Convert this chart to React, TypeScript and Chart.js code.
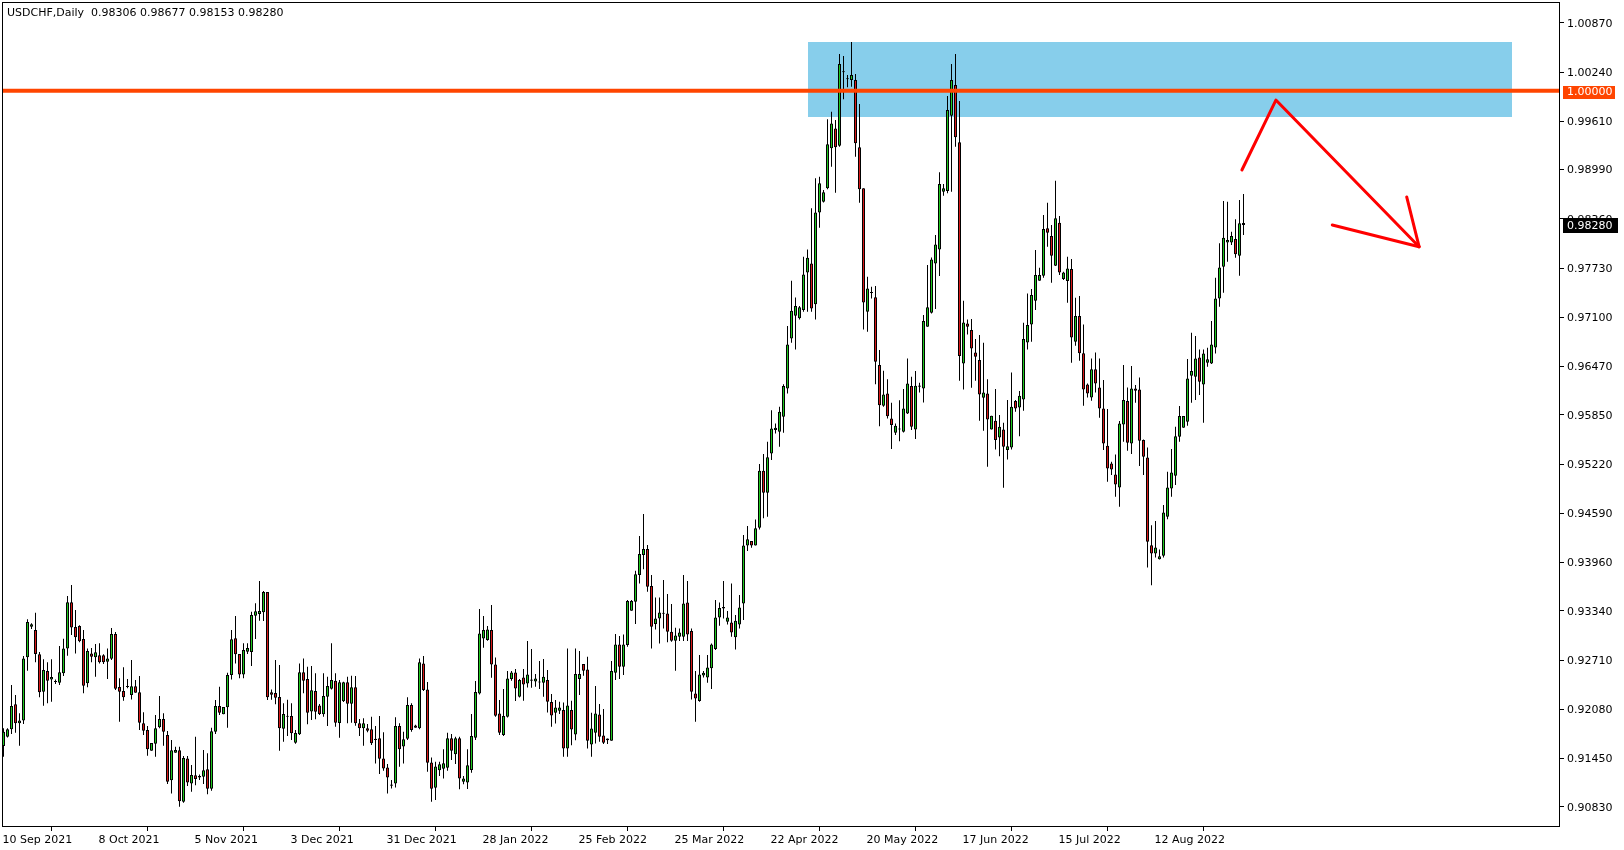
import React, { useEffect, useRef } from "react";
import { Chart, registerables } from "chart.js";

Chart.register(...registerables);

// ---------- data ----------
const chartTitle = "USDCHF,Daily  0.98306 0.98677 0.98153 0.98280";

const opens = [
  0.91608, 0.91728, 0.91822, 0.92142, 0.91899, 0.91937, 0.92744, 0.93137, 0.93094, 0.92783,
  0.92304, 0.92569, 0.92462, 0.92428, 0.92420, 0.92539, 0.92859, 0.93449, 0.93133, 0.93146,
  0.92979, 0.92411, 0.92795, 0.92744, 0.92770, 0.92770, 0.92689, 0.92727, 0.93043, 0.92364,
  0.92313, 0.92373, 0.92262, 0.92373, 0.92296, 0.91899, 0.91813, 0.91549, 0.91638, 0.91848,
  0.91954, 0.91749, 0.91169, 0.91523, 0.91553, 0.90895, 0.91450, 0.91130, 0.91233, 0.91207,
  0.91216, 0.91310, 0.91062, 0.91792, 0.92121, 0.92014, 0.92104, 0.92518, 0.92988, 0.92787,
  0.92526, 0.92817, 0.92812, 0.93278, 0.93299, 0.93321, 0.93581, 0.92296, 0.92287, 0.92236,
  0.91831, 0.91993, 0.91993, 0.91651, 0.91758, 0.92552, 0.92467, 0.92052, 0.92313, 0.92129,
  0.92014, 0.92240, 0.92343, 0.92445, 0.91903, 0.92181, 0.92424, 0.92151, 0.92360, 0.91899,
  0.91835, 0.91835, 0.91822, 0.91702, 0.91707, 0.91450, 0.91335, 0.91117, 0.91130, 0.91865,
  0.91604, 0.91702, 0.92134, 0.91873, 0.91835, 0.92667, 0.92333, 0.91399, 0.91075, 0.91297,
  0.91318, 0.91331, 0.91707, 0.91502, 0.91707, 0.91152, 0.91143, 0.91301, 0.91715, 0.92282,
  0.92987, 0.92965, 0.93094, 0.92654, 0.92026, 0.91749, 0.91983, 0.92466, 0.92551, 0.92240,
  0.92487, 0.92410, 0.92445, 0.92436, 0.92423, 0.92419, 0.92453, 0.92171, 0.92035, 0.92060,
  0.92069, 0.91578, 0.92069, 0.91757, 0.92466, 0.92658, 0.92590, 0.91629, 0.91778, 0.92013,
  0.91744, 0.91706, 0.91676, 0.92547, 0.92910, 0.92624, 0.92901, 0.93341, 0.93456, 0.93798,
  0.94054, 0.94131, 0.93657, 0.93170, 0.93243, 0.93303, 0.93307, 0.93072, 0.92957, 0.93008,
  0.93008, 0.93448, 0.93081, 0.92282, 0.92184, 0.92513, 0.92487, 0.92603, 0.92850, 0.93256,
  0.93371, 0.93200, 0.93192, 0.93000, 0.93166, 0.93435, 0.94178, 0.94234, 0.94178, 0.94404,
  0.95133, 0.94853, 0.95355, 0.95654, 0.95633, 0.95825, 0.96188, 0.96828, 0.97119, 0.97085,
  0.97191, 0.97674, 0.97789, 0.97266, 0.98442, 0.98579, 0.98750, 0.99262, 0.99518, 0.99296,
  1.00236, 1.00146, 1.00138, 1.00138, 0.99275, 0.98750, 0.97170, 0.97409, 0.97355, 0.96487,
  0.95966, 0.96124, 0.95803, 0.95620, 0.95663, 0.95633, 0.95868, 0.96218, 0.95663, 0.96209,
  0.96188, 0.96978, 0.97157, 0.97789, 0.97968, 0.98707, 0.98716, 0.99681, 1.00073, 0.99339,
  0.96508, 0.97020, 0.96935, 0.96649, 0.96551, 0.96068, 0.96124, 0.95663, 0.95774, 0.95560,
  0.95663, 0.95398, 0.95432, 0.96026, 0.95945, 0.96047, 0.96777, 0.97008, 0.97311, 0.97567,
  0.97631, 0.98238, 0.98139, 0.97759, 0.98310, 0.97589, 0.97563, 0.97717, 0.96786, 0.97115,
  0.96637, 0.96239, 0.96073, 0.96432, 0.96201, 0.95932, 0.95454, 0.95227, 0.95086, 0.94920,
  0.95727, 0.96026, 0.95484, 0.96188, 0.96175, 0.95526, 0.95304, 0.94181, 0.94074, 0.94002,
  0.94044, 0.94544, 0.94907, 0.95069, 0.95569, 0.95684, 0.95761, 0.96350, 0.96338, 0.96585,
  0.96239, 0.96517, 0.96508, 0.96713, 0.97341, 0.97747, 0.98058, 0.98058, 0.98101, 0.97888,
  0.98306,
];

const highs = [
  0.91835, 0.91835, 0.92390, 0.92262, 0.92027, 0.92761, 0.93231, 0.93180, 0.93316, 0.92812,
  0.92719, 0.92680, 0.92719, 0.92462, 0.92889, 0.92983, 0.93530, 0.93671, 0.93351, 0.93154,
  0.93094, 0.92859, 0.92864, 0.92915, 0.92924, 0.92783, 0.92859, 0.93120, 0.93069, 0.92475,
  0.92616, 0.92467, 0.92710, 0.92454, 0.92505, 0.92040, 0.91865, 0.91647, 0.92006, 0.92249,
  0.92027, 0.91801, 0.91685, 0.91600, 0.91600, 0.91480, 0.91480, 0.91365, 0.91728, 0.91245,
  0.91557, 0.91515, 0.91844, 0.92198, 0.92369, 0.92108, 0.92548, 0.93094, 0.93274, 0.92787,
  0.92924, 0.92924, 0.93329, 0.93436, 0.93722, 0.93594, 0.93581, 0.92334, 0.92710, 0.92646,
  0.92155, 0.92202, 0.92155, 0.91813, 0.92667, 0.92731, 0.92625, 0.92633, 0.92539, 0.92146,
  0.92539, 0.92497, 0.92924, 0.92539, 0.92454, 0.92432, 0.92497, 0.92509, 0.92505, 0.91954,
  0.91963, 0.91890, 0.91984, 0.91865, 0.91993, 0.91784, 0.91378, 0.91173, 0.91976, 0.91899,
  0.91792, 0.92232, 0.92155, 0.91882, 0.92731, 0.92761, 0.92427, 0.91463, 0.91408, 0.91408,
  0.91566, 0.91780, 0.91762, 0.91728, 0.91728, 0.91224, 0.91566, 0.92019, 0.92440, 0.93362,
  0.93273, 0.93145, 0.93414, 0.92743, 0.92197, 0.92338, 0.92568, 0.92568, 0.92594, 0.92466,
  0.92594, 0.92953, 0.92850, 0.92530, 0.92696, 0.92722, 0.92581, 0.92274, 0.92197, 0.92175,
  0.92167, 0.92859, 0.92188, 0.92859, 0.92824, 0.92658, 0.92752, 0.92035, 0.92376, 0.92146,
  0.92082, 0.91706, 0.92696, 0.93042, 0.93017, 0.93038, 0.93478, 0.93478, 0.93854, 0.94298,
  0.94579, 0.94182, 0.93798, 0.93512, 0.93512, 0.93734, 0.93555, 0.93427, 0.93123, 0.93115,
  0.93798, 0.93721, 0.93115, 0.92568, 0.92773, 0.92568, 0.92773, 0.92923, 0.93478, 0.93448,
  0.93721, 0.93337, 0.93691, 0.93286, 0.93542, 0.94310, 0.94426, 0.94234, 0.94511, 0.95220,
  0.95349, 0.95505, 0.95910, 0.95739, 0.95953, 0.96243, 0.96986, 0.97567, 0.97351, 0.97244,
  0.97874, 0.97968, 0.98494, 0.98878, 0.98899, 0.98728, 0.99634, 0.99732, 0.99625, 1.00471,
  1.00445, 1.00202, 1.00624, 1.00214, 0.99830, 0.98750, 0.97618, 0.97490, 0.97499, 0.96679,
  0.96414, 0.96307, 0.96004, 0.95739, 0.96038, 0.96179, 0.96572, 0.96337, 0.96410, 0.96260,
  0.97127, 0.97768, 0.97866, 0.98152, 0.98955, 0.98805, 0.99933, 1.00342, 1.00471, 0.99869,
  0.97311, 0.97072, 0.97076, 0.96820, 0.96871, 0.96773, 0.96307, 0.95838, 0.96180, 0.95847,
  0.95748, 0.96039, 0.96393, 0.96039, 0.96154, 0.97029, 0.97405, 0.97461, 0.97960, 0.97734,
  0.98408, 0.98566, 0.98280, 0.98848, 0.98396, 0.97683, 0.97875, 0.97845, 0.97349, 0.97371,
  0.97008, 0.96252, 0.96572, 0.96649, 0.96572, 0.96295, 0.95923, 0.95249, 0.95343, 0.95770,
  0.96487, 0.96201, 0.96474, 0.96231, 0.96329, 0.95535, 0.95432, 0.94437, 0.94489, 0.94126,
  0.94694, 0.95121, 0.95411, 0.95697, 0.95962, 0.95834, 0.96564, 0.96901, 0.96858, 0.96688,
  0.96688, 0.96709, 0.97051, 0.97606, 0.98046, 0.98588, 0.98579, 0.98195, 0.98353, 0.98601,
  0.98677,
];

const lows = [
  0.91472, 0.91719, 0.91762, 0.91779, 0.91613, 0.91890, 0.92573, 0.93107, 0.92680, 0.92232,
  0.92125, 0.92155, 0.92176, 0.92403, 0.92390, 0.92505, 0.92766, 0.93030, 0.92795, 0.92936,
  0.92283, 0.92360, 0.92680, 0.92497, 0.92667, 0.92659, 0.92467, 0.92710, 0.92326, 0.91920,
  0.92189, 0.92347, 0.92206, 0.92292, 0.91813, 0.91749, 0.91485, 0.91549, 0.91472, 0.91835,
  0.91613, 0.91122, 0.91002, 0.91523, 0.90832, 0.90882, 0.91096, 0.91024, 0.91105, 0.91173,
  0.91122, 0.90990, 0.91037, 0.91762, 0.92006, 0.92014, 0.91844, 0.92462, 0.92667, 0.92475,
  0.92475, 0.92787, 0.92633, 0.92979, 0.93214, 0.93210, 0.92198, 0.92202, 0.92142, 0.91549,
  0.91664, 0.91736, 0.91685, 0.91638, 0.91749, 0.92283, 0.91886, 0.91941, 0.91950, 0.92006,
  0.91984, 0.91865, 0.92334, 0.91856, 0.91715, 0.92172, 0.91899, 0.91907, 0.91869, 0.91736,
  0.91613, 0.91784, 0.91621, 0.91386, 0.91250, 0.91292, 0.91002, 0.91066, 0.91079, 0.91344,
  0.91386, 0.91685, 0.91792, 0.91844, 0.91822, 0.92312, 0.91279, 0.90896, 0.90917, 0.91224,
  0.91194, 0.91293, 0.91429, 0.91378, 0.91054, 0.91118, 0.91058, 0.91267, 0.91686, 0.92269,
  0.92867, 0.92957, 0.92483, 0.91983, 0.91749, 0.91736, 0.91975, 0.92445, 0.92184, 0.92231,
  0.92188, 0.92359, 0.92355, 0.92368, 0.92338, 0.92240, 0.92039, 0.91855, 0.91898, 0.92018,
  0.91471, 0.91471, 0.91620, 0.91684, 0.92261, 0.92509, 0.91578, 0.91471, 0.91642, 0.91663,
  0.91633, 0.91633, 0.91676, 0.92453, 0.92466, 0.92517, 0.92880, 0.93341, 0.93170, 0.93691,
  0.93871, 0.93585, 0.92859, 0.93102, 0.92923, 0.93115, 0.92936, 0.92944, 0.92573, 0.92953,
  0.92953, 0.92953, 0.92205, 0.91919, 0.92175, 0.92487, 0.92419, 0.92338, 0.92837, 0.93149,
  0.93243, 0.93166, 0.93008, 0.92846, 0.93115, 0.93222, 0.94106, 0.94148, 0.94178, 0.94380,
  0.94524, 0.94545, 0.95270, 0.95611, 0.95441, 0.95620, 0.96124, 0.96773, 0.96687, 0.97072,
  0.97170, 0.97170, 0.97170, 0.97072, 0.98246, 0.98570, 0.98737, 0.99027, 0.98694, 0.99284,
  0.99890, 1.00044, 1.00052, 0.99155, 0.98566, 0.96944, 0.96914, 0.97341, 0.96243, 0.95705,
  0.95953, 0.95803, 0.95411, 0.95590, 0.95513, 0.95624, 0.95859, 0.95654, 0.95539, 0.96136,
  0.96008, 0.96978, 0.97149, 0.97204, 0.97627, 0.98656, 0.98686, 0.98707, 0.99284, 0.96286,
  0.96175, 0.96880, 0.96196, 0.96286, 0.95774, 0.95646, 0.95184, 0.95663, 0.95407, 0.95321,
  0.94916, 0.95279, 0.95407, 0.95889, 0.95577, 0.95902, 0.96688, 0.96786, 0.97192, 0.97567,
  0.97606, 0.98003, 0.97542, 0.97755, 0.97640, 0.97576, 0.97285, 0.96517, 0.96735, 0.96542,
  0.95966, 0.96073, 0.96030, 0.96137, 0.95812, 0.95398, 0.94993, 0.95078, 0.94800, 0.94672,
  0.95505, 0.95390, 0.95347, 0.96004, 0.95193, 0.95078, 0.93895, 0.93669, 0.94023, 0.93998,
  0.94023, 0.94514, 0.94800, 0.94950, 0.95505, 0.95684, 0.95710, 0.96004, 0.96039, 0.96103,
  0.95748, 0.96466, 0.96500, 0.96636, 0.97234, 0.97414, 0.97811, 0.98024, 0.97862, 0.97631,
  0.98153,
];

const closes = [
  0.91792, 0.91822, 0.92121, 0.91899, 0.91937, 0.92731, 0.93197, 0.93167, 0.92787, 0.92296,
  0.92582, 0.92445, 0.92492, 0.92437, 0.92552, 0.92859, 0.93449, 0.93128, 0.93000, 0.92949,
  0.92381, 0.92825, 0.92753, 0.92808, 0.92680, 0.92680, 0.92731, 0.93043, 0.92343, 0.92304,
  0.92232, 0.92364, 0.92373, 0.92292, 0.91907, 0.91805, 0.91566, 0.91647, 0.91835, 0.91954,
  0.91792, 0.91151, 0.91553, 0.91557, 0.90900, 0.91455, 0.91143, 0.91237, 0.91186, 0.91224,
  0.91297, 0.91062, 0.91797, 0.92121, 0.92035, 0.92108, 0.92518, 0.92975, 0.92783, 0.92526,
  0.92838, 0.92864, 0.93286, 0.93333, 0.93338, 0.93581, 0.92232, 0.92266, 0.92227, 0.91835,
  0.92018, 0.91984, 0.91771, 0.91775, 0.92552, 0.92445, 0.92035, 0.92322, 0.92048, 0.92018,
  0.92249, 0.92377, 0.92454, 0.91907, 0.92424, 0.92424, 0.92151, 0.92360, 0.91899, 0.91835,
  0.91899, 0.91805, 0.91643, 0.91685, 0.91447, 0.91322, 0.91207, 0.91100, 0.91865, 0.91566,
  0.91694, 0.92134, 0.91813, 0.91844, 0.92680, 0.92325, 0.91394, 0.91062, 0.91348, 0.91374,
  0.91387, 0.91707, 0.91549, 0.91707, 0.91194, 0.91194, 0.91361, 0.91737, 0.92300, 0.93051,
  0.93094, 0.93102, 0.92654, 0.91996, 0.91778, 0.91992, 0.92474, 0.92551, 0.92346, 0.92453,
  0.92398, 0.92526, 0.92462, 0.92474, 0.92432, 0.92496, 0.92175, 0.92000, 0.92103, 0.92103,
  0.91578, 0.92129, 0.91821, 0.92530, 0.92530, 0.92573, 0.91676, 0.91834, 0.92026, 0.91727,
  0.91650, 0.91684, 0.92568, 0.92910, 0.92624, 0.92910, 0.93465, 0.93465, 0.93807, 0.94067,
  0.94131, 0.93649, 0.93136, 0.93243, 0.93320, 0.93311, 0.93072, 0.92957, 0.93025, 0.93064,
  0.93435, 0.93038, 0.92304, 0.92218, 0.92526, 0.92547, 0.92615, 0.92910, 0.93256, 0.93375,
  0.93388, 0.93256, 0.93064, 0.93213, 0.93384, 0.94178, 0.94255, 0.94178, 0.94396, 0.95133,
  0.94853, 0.95306, 0.95675, 0.95684, 0.95889, 0.96218, 0.96751, 0.97182, 0.97244, 0.97227,
  0.97648, 0.97862, 0.97213, 0.98442, 0.98814, 0.98699, 0.99314, 0.99582, 0.99275, 1.00342,
  1.00244, 1.00155, 1.00202, 0.99326, 0.98737, 0.97289, 0.97469, 0.97418, 0.96531, 0.95974,
  0.96111, 0.95833, 0.95718, 0.95710, 0.95671, 0.95932, 0.96252, 0.95697, 0.96222, 0.96226,
  0.97050, 0.97227, 0.97840, 0.98032, 0.98805, 0.98750, 0.99753, 1.00138, 0.99403, 0.96602,
  0.97033, 0.96978, 0.96700, 0.96593, 0.96111, 0.96137, 0.95791, 0.95838, 0.95526, 0.95697,
  0.95441, 0.95449, 0.95953, 0.95932, 0.96094, 0.96820, 0.96999, 0.97384, 0.97640, 0.97640,
  0.98229, 0.98182, 0.97888, 0.98366, 0.97674, 0.97674, 0.97725, 0.96841, 0.97115, 0.96637,
  0.96175, 0.96124, 0.96432, 0.96252, 0.95932, 0.95484, 0.95163, 0.95150, 0.94958, 0.95740,
  0.96039, 0.95492, 0.96188, 0.96158, 0.95518, 0.95313, 0.94224, 0.94074, 0.94151, 0.94040,
  0.94600, 0.94920, 0.95112, 0.95577, 0.95834, 0.95834, 0.96316, 0.96410, 0.96572, 0.96273,
  0.96636, 0.96560, 0.96752, 0.97341, 0.97738, 0.98118, 0.98088, 0.98139, 0.97905, 0.98302,
  0.98280,
];

const xTickBars = [0, 24, 48, 72, 96, 120, 144, 168, 192, 216, 240, 264, 288];
const xTickLabels = [
  "10 Sep 2021", "8 Oct 2021", "5 Nov 2021", "3 Dec 2021", "31 Dec 2021", "28 Jan 2022",
  "25 Feb 2022", "25 Mar 2022", "22 Apr 2022", "20 May 2022", "17 Jun 2022", "15 Jul 2022",
  "12 Aug 2022",
];
const yTickValues = [
  1.0087, 1.0024, 0.9961, 0.9899, 0.9836, 0.9773, 0.971, 0.9647, 0.9585, 0.9522, 0.9459,
  0.9396, 0.9334, 0.9271, 0.9208, 0.9145, 0.9083,
];

const levelPrice = 1.0;
const zoneBars = [201, 377];
const zonePrices = [1.00618, 0.9967];
const arrowBars = [309.6, 318.1, 353.9];
const arrowPrices = [0.98985, 0.99881, 0.98003];
const arrowHeadBars = [350.8, 332.2];
const arrowHeadPrices = [0.9864, 0.98281];
const lastPrice = 0.9828;

// ---------- styling ----------
const FONT_FAMILY = "DejaVu Sans";
const FONT = `11px "${FONT_FAMILY}"`;
const BULL = "#1EC81E";
const BEAR = "#D81818";
const ZONE = "#87CEEB";
const LEVEL = "#FF4500";
const ARROW = "#FF0000";

const mt4Plugin = {
  id: "mt4Overlay",
  beforeDraw(chart: any) {
    const { ctx, width, height } = chart;
    ctx.save();
    ctx.fillStyle = "#ffffff";
    ctx.fillRect(0, 0, width, height);
    ctx.restore();
  },
  beforeDatasetsDraw(chart: any) {
    const { ctx, chartArea, scales } = chart;
    const x = scales.x;
    const y = scales.y;
    ctx.save();
    ctx.beginPath();
    ctx.rect(chartArea.left, chartArea.top, chartArea.right - chartArea.left, chartArea.bottom - chartArea.top);
    ctx.clip();
    const x0 = Math.round(x.getPixelForValue(zoneBars[0]));
    const x1 = Math.round(x.getPixelForValue(zoneBars[1]));
    const y0 = Math.round(y.getPixelForValue(zonePrices[0]));
    const y1 = Math.round(y.getPixelForValue(zonePrices[1]));
    ctx.fillStyle = ZONE;
    ctx.fillRect(x0, y0, x1 - x0, y1 - y0);
    ctx.restore();
  },
  afterDatasetsDraw(chart: any) {
    const { ctx, chartArea, scales } = chart;
    const x = scales.x;
    const y = scales.y;
    ctx.save();
    ctx.beginPath();
    ctx.rect(chartArea.left, chartArea.top, chartArea.right - chartArea.left, chartArea.bottom - chartArea.top);
    ctx.clip();
    // horizontal level
    const ly = y.getPixelForValue(levelPrice);
    ctx.strokeStyle = LEVEL;
    ctx.lineWidth = 4;
    ctx.beginPath();
    ctx.moveTo(chartArea.left, ly);
    ctx.lineTo(chartArea.right, ly);
    ctx.stroke();
    // hand drawn arrow
    ctx.strokeStyle = ARROW;
    ctx.lineWidth = 3;
    ctx.lineCap = "round";
    ctx.lineJoin = "round";
    ctx.beginPath();
    arrowBars.forEach((b, i) => {
      const px = x.getPixelForValue(b);
      const py = y.getPixelForValue(arrowPrices[i]);
      if (i === 0) ctx.moveTo(px, py);
      else ctx.lineTo(px, py);
    });
    ctx.stroke();
    const tipX = x.getPixelForValue(arrowBars[arrowBars.length - 1]);
    const tipY = y.getPixelForValue(arrowPrices[arrowPrices.length - 1]);
    arrowHeadBars.forEach((b, i) => {
      ctx.beginPath();
      ctx.moveTo(x.getPixelForValue(b), y.getPixelForValue(arrowHeadPrices[i]));
      ctx.lineTo(tipX, tipY);
      ctx.stroke();
    });
    ctx.restore();
  },
  afterDraw(chart: any) {
    const { ctx, chartArea, scales } = chart;
    const y = scales.y;
    ctx.save();
    // frame
    ctx.strokeStyle = "#000000";
    ctx.lineWidth = 1;
    ctx.strokeRect(chartArea.left + 0.5, chartArea.top + 0.5, chartArea.right - chartArea.left, chartArea.bottom - chartArea.top);
    // title
    ctx.font = FONT;
    ctx.fillStyle = "#000000";
    ctx.textBaseline = "middle";
    ctx.textAlign = "left";
    ctx.fillText(chartTitle, 7, 13);
    // level price label
    const ly = Math.round(y.getPixelForValue(levelPrice));
    ctx.fillStyle = LEVEL;
    ctx.fillRect(chartArea.right + 4, ly - 5, 52, 13);
    ctx.fillStyle = "#ffffff";
    ctx.fillText(levelPrice.toFixed(5), chartArea.right + 8, ly + 1.5);
    // last price label
    const cy = Math.round(y.getPixelForValue(lastPrice));
    ctx.fillStyle = "#000000";
    ctx.fillRect(chartArea.right + 4, cy - 7, 55, 15);
    ctx.fillStyle = "#ffffff";
    ctx.fillText(lastPrice.toFixed(5), chartArea.right + 8, cy + 1);
    ctx.restore();
  },
};

export default function App() {
  const canvasRef = useRef<HTMLCanvasElement | null>(null);

  useEffect(() => {
    const canvas = canvasRef.current;
    if (!canvas) return;
    Chart.defaults.font.family = FONT_FAMILY;

    const bodyData = opens.map((o, i) => ({ x: i, y: [o, closes[i]] }));
    const wickData = opens.map((_, i) => ({ x: i, y: [lows[i], highs[i]] }));
    const bodyColors = opens.map((o, i) => (closes[i] >= o ? BULL : BEAR));

    const chart = new Chart(canvas, {
      type: "bar",
      data: {
        datasets: [
          {
            label: "body",
            data: bodyData as any,
            backgroundColor: bodyColors,
            borderColor: "#000000",
            borderWidth: 1,
            borderSkipped: false,
            barThickness: 3,
            minBarLength: 1,
            grouped: false,
            inflateAmount: 0,
            order: 0,
          } as any,
          {
            label: "wick",
            data: wickData as any,
            backgroundColor: "#000000",
            borderWidth: 0,
            barThickness: 1,
            grouped: false,
            inflateAmount: 0,
            order: 1,
          } as any,
        ],
      },
      options: {
        responsive: false,
        animation: false,
        events: [],
        layout: { padding: { left: 2, top: 2, right: 0, bottom: 0 } },
        plugins: {
          legend: { display: false },
          tooltip: { enabled: false },
          title: { display: false },
        },
        scales: {
          x: {
            type: "linear",
            min: -0.375,
            max: 388.875,
            offset: false,
            grid: { display: true, drawOnChartArea: false, drawTicks: true, tickLength: 5, color: "#000000" },
            border: { display: true, color: "#000000" },
            ticks: {
              autoSkip: false,
              maxRotation: 0,
              minRotation: 0,
              align: "start",
              labelOffset: -1,
              padding: 3,
              color: "#000000",
              font: { family: FONT_FAMILY, size: 11 },
              callback: (_v: any, i: number) => xTickLabels[i],
            },
            afterBuildTicks: (s: any) => {
              s.ticks = xTickBars.map((v) => ({ value: v }));
            },
            afterFit: (s: any) => {
              s.height = 24;
              s.paddingLeft = 0;
              s.paddingRight = 0;
            },
          } as any,
          y: {
            type: "linear",
            position: "right",
            min: 0.905845,
            max: 1.011364,
            grid: { display: true, drawOnChartArea: false, drawTicks: true, tickLength: 5, color: "#000000" },
            border: { display: true, color: "#000000" },
            ticks: {
              padding: 3,
              labelOffset: 1,
              color: "#000000",
              font: { family: FONT_FAMILY, size: 11 },
              callback: (v: any) => Number(v).toFixed(5),
            },
            afterBuildTicks: (s: any) => {
              s.ticks = yTickValues.map((v) => ({ value: v }));
            },
            afterFit: (s: any) => {
              s.width = 65;
              s.paddingTop = 0;
              s.paddingBottom = 0;
            },
          } as any,
        },
      },
      plugins: [mt4Plugin],
    });

    return () => chart.destroy();
  }, []);

  return (
    <div style={{ position: "absolute", left: 0, top: 0, width: 1624, height: 850, background: "#fff" }}>
      <canvas ref={canvasRef} width={1624} height={850} style={{ width: 1624, height: 850, display: "block" }} />
    </div>
  );
}
